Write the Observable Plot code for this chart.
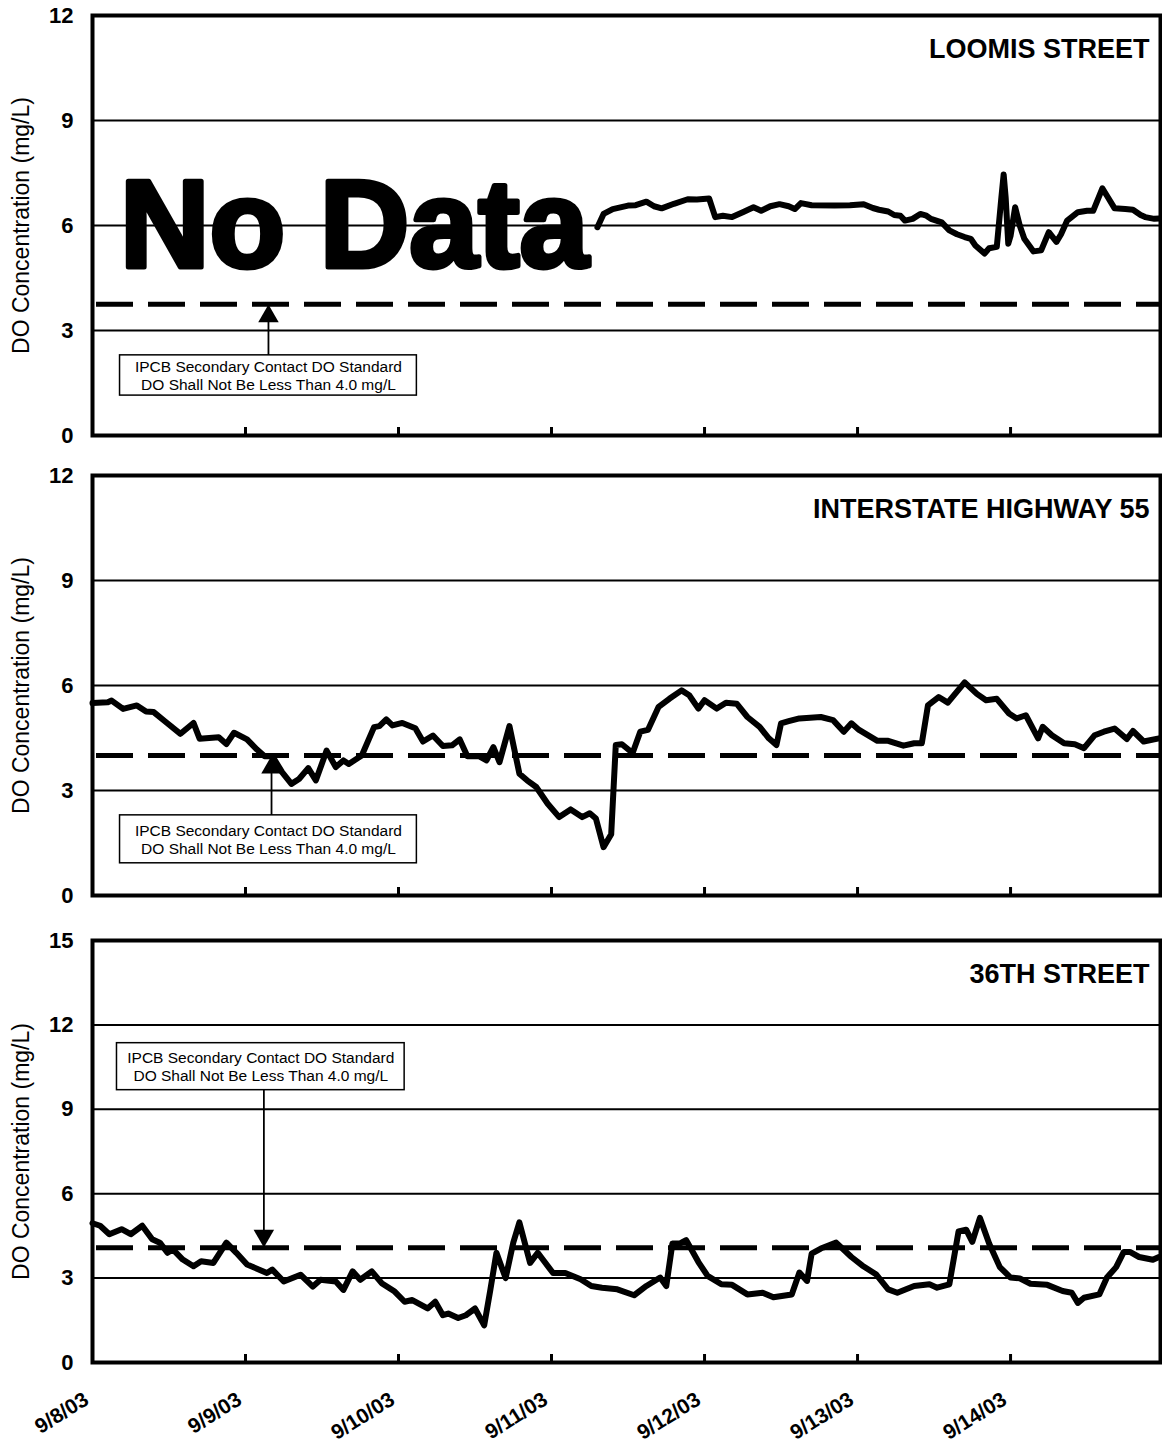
<!DOCTYPE html>
<html><head><meta charset="utf-8">
<script src="https://cdn.jsdelivr.net/npm/d3@7"></script>
<script src="https://cdn.jsdelivr.net/npm/@observablehq/plot@0.6"></script>
<style>
body{margin:0;background:#fff;}
#chart{width:1162px;}
#chart svg{display:block;}
</style></head><body><div id="chart"></div>
<script>
// ---------- data ----------
const dayTicks = [0, 1, 2, 3, 4, 5, 6];
const tickLabels = ["9/8/03", "9/9/03", "9/10/03", "9/11/03", "9/12/03", "9/13/03", "9/14/03"];
const stations = ["LOOMIS STREET", "INTERSTATE HIGHWAY 55", "36TH STREET"];
const yTicksA = [0, 3, 6, 9, 12];
const yTicksB = [0, 3, 6, 9, 12, 15];
const standardDO = [3.75, 4.0, 4.08];
const noteLines = ["IPCB Secondary Contact DO Standard", "DO Shall Not Be Less Than 4.0 mg/L"];
const yLabel = "DO Concentration (mg/L)";
const noDataLabel = "No Data";

const loomisDay = [3.30,3.34,3.40,3.45,3.50,3.55,3.62,3.67,3.72,3.80,3.89,3.95,4.03,4.07,4.12,4.18,4.25,4.32,4.37,4.43,4.49,4.55,4.59,4.63,4.70,4.85,4.95,5.04,5.10,5.14,5.20,5.24,5.28,5.31,5.36,5.41,5.45,5.48,5.55,5.60,5.65,5.70,5.74,5.77,5.83,5.86,5.91,5.94,5.955,5.968,5.985,6.00,6.03,6.06,6.09,6.15,6.20,6.25,6.30,6.33,6.37,6.44,6.50,6.54,6.60,6.63,6.68,6.75,6.80,6.85,6.88,6.94,6.97];
const loomisDO  = [5.95,6.33,6.47,6.52,6.57,6.58,6.68,6.55,6.49,6.62,6.75,6.74,6.77,6.24,6.28,6.24,6.38,6.52,6.42,6.55,6.61,6.55,6.47,6.64,6.58,6.57,6.58,6.61,6.50,6.45,6.40,6.30,6.28,6.14,6.19,6.33,6.28,6.19,6.09,5.86,5.75,5.67,5.62,5.43,5.20,5.35,5.39,6.80,7.46,6.80,5.48,5.70,6.52,6.00,5.62,5.26,5.29,5.81,5.53,5.75,6.14,6.38,6.42,6.42,7.06,6.85,6.49,6.47,6.45,6.30,6.24,6.19,6.20];

const i55Day = [0.00,0.10,0.125,0.20,0.29,0.35,0.40,0.475,0.575,0.66,0.70,0.825,0.875,0.925,1.01,1.075,1.125,1.175,1.24,1.30,1.35,1.41,1.46,1.53,1.59,1.64,1.675,1.76,1.84,1.875,1.92,1.96,2.025,2.11,2.16,2.225,2.29,2.35,2.40,2.45,2.525,2.575,2.62,2.66,2.725,2.79,2.84,2.90,2.975,3.05,3.125,3.20,3.25,3.29,3.34,3.39,3.42,3.46,3.53,3.58,3.63,3.70,3.77,3.85,3.90,3.96,4.00,4.08,4.14,4.21,4.28,4.36,4.42,4.47,4.50,4.55,4.62,4.76,4.84,4.91,4.96,5.01,5.13,5.20,5.30,5.37,5.42,5.46,5.53,5.59,5.70,5.78,5.84,5.91,5.99,6.04,6.10,6.18,6.21,6.27,6.35,6.42,6.48,6.55,6.61,6.68,6.76,6.80,6.87,6.97];
const i55DO  = [5.50,5.52,5.57,5.33,5.43,5.26,5.24,4.97,4.62,4.93,4.48,4.52,4.33,4.65,4.46,4.17,3.98,3.98,3.52,3.19,3.33,3.64,3.29,4.14,3.67,3.86,3.76,4.00,4.81,4.84,5.03,4.86,4.93,4.78,4.40,4.57,4.27,4.29,4.46,3.98,3.98,3.86,4.24,3.81,4.84,3.48,3.29,3.10,2.62,2.24,2.46,2.24,2.35,2.20,1.38,1.75,4.30,4.32,4.07,4.68,4.73,5.39,5.62,5.86,5.72,5.34,5.58,5.34,5.51,5.48,5.10,4.82,4.49,4.30,4.92,4.98,5.06,5.10,5.01,4.68,4.92,4.73,4.42,4.42,4.28,4.35,4.35,5.43,5.67,5.51,6.09,5.76,5.58,5.62,5.20,5.06,5.15,4.49,4.82,4.58,4.35,4.32,4.21,4.58,4.68,4.77,4.47,4.70,4.40,4.49];

const st36Day = [0.00,0.05,0.11,0.19,0.25,0.325,0.39,0.44,0.49,0.525,0.59,0.66,0.71,0.79,0.875,0.94,1.01,1.09,1.14,1.175,1.25,1.36,1.44,1.49,1.59,1.64,1.70,1.75,1.825,1.89,1.975,2.04,2.09,2.19,2.24,2.29,2.325,2.39,2.44,2.50,2.56,2.60,2.64,2.70,2.75,2.79,2.86,2.91,3.01,3.09,3.19,3.26,3.33,3.43,3.54,3.62,3.71,3.75,3.79,3.84,3.88,3.96,4.02,4.11,4.18,4.28,4.38,4.45,4.57,4.62,4.67,4.70,4.76,4.86,4.96,5.03,5.12,5.20,5.26,5.37,5.47,5.52,5.60,5.66,5.71,5.75,5.80,5.86,5.93,6.00,6.06,6.13,6.24,6.34,6.40,6.44,6.48,6.58,6.63,6.69,6.74,6.78,6.84,6.93,6.97];
const st36DO  = [4.95,4.86,4.56,4.74,4.56,4.86,4.38,4.26,3.90,4.02,3.66,3.42,3.60,3.54,4.26,3.90,3.48,3.30,3.18,3.30,2.88,3.12,2.70,2.94,2.88,2.58,3.24,2.94,3.24,2.82,2.52,2.16,2.22,1.92,2.16,1.68,1.74,1.58,1.68,1.92,1.32,2.58,3.90,3.00,4.26,4.98,3.54,3.90,3.18,3.18,2.96,2.72,2.66,2.60,2.39,2.72,3.02,2.72,4.23,4.23,4.35,3.57,3.08,2.78,2.76,2.42,2.48,2.32,2.42,3.20,2.90,3.87,4.05,4.26,3.75,3.45,3.14,2.60,2.48,2.72,2.78,2.66,2.78,4.66,4.72,4.29,5.14,4.23,3.39,3.02,2.99,2.80,2.76,2.54,2.48,2.12,2.30,2.42,3.02,3.39,3.93,3.93,3.75,3.65,3.75];

// ---------- layout / styling ----------
const FONT = "'Liberation Sans', Arial, Helvetica, sans-serif";
const xDomain = [0, 6.98];

const panels = [
  {title: stations[0], days: loomisDay, values: loomisDO, yTicks: yTicksA, std: standardDO[0],
   height: 455, marginTop: 15, marginBottom: 20, labels: false,
   box: {x1: 0.18, x2: 2.12, y1: 1.14, y2: 2.29}, arrow: {x: 1.15, dir: "up"},
   noData: {x: 1.71, y: 5.95}},
  {title: stations[1], days: i55Day, values: i55DO, yTicks: yTicksA, std: standardDO[1],
   height: 460, marginTop: 20, marginBottom: 20, labels: false,
   box: {x1: 0.18, x2: 2.12, y1: 0.92, y2: 2.29}, arrow: {x: 1.17, dir: "up"}},
  {title: stations[2], days: st36Day, values: st36DO, yTicks: yTicksB, std: standardDO[2],
   height: 535, marginTop: 25, marginBottom: 88, labels: true,
   box: {x1: 0.16, x2: 2.04, y1: 9.68, y2: 11.35}, arrow: {x: 1.12, dir: "down"}}
];

function makePanel(p) {
  const data = p.days.map((d, i) => ({day: d, value: p.values[i]}));
  const yMax = p.yTicks[p.yTicks.length - 1];
  const b = p.box;
  const boxMid = (b.y1 + b.y2) / 2;
  const arrowFrom = p.arrow.dir === "up" ? b.y2 : b.y1;
  const marks = [
    Plot.ruleY(p.yTicks.slice(1, -1), {stroke: "#000", strokeWidth: 2}),
    Plot.ruleY([p.std], {stroke: "#000", strokeWidth: 5, strokeDasharray: "37,15", strokeDashoffset: -4}),
    Plot.rect([b], {x1: "x1", x2: "x2", y1: "y1", y2: "y2", fill: "#fff", stroke: "#000", strokeWidth: 1.5}),
    Plot.text([noteLines.join("\n")], {x: (b.x1 + b.x2) / 2, y: boxMid, fontSize: 15.5, lineHeight: 1.15, fill: "#000", fontFamily: FONT}),
    Plot.ruleX([{x: p.arrow.x, y1: arrowFrom, y2: p.std}], {x: "x", y1: "y1", y2: "y2", stroke: "#000", strokeWidth: 1.8}),
    Plot.dot([{x: p.arrow.x, y: p.std}], {x: "x", y: "y", symbol: "triangle", r: 7.6, fill: "#000", stroke: "none",
      rotate: p.arrow.dir === "up" ? 0 : 180, dy: p.arrow.dir === "up" ? 12 : -12}),
    Plot.line(data, {x: "day", y: "value", stroke: "#000", strokeWidth: 6, strokeLinejoin: "round", strokeLinecap: "round"}),
    Plot.text([p.title], {frameAnchor: "top-right", textAnchor: "end", lineAnchor: "bottom", dx: -11, dy: 42,
      fontSize: 27, fontWeight: "bold", fontFamily: FONT, fill: "#000"}),
    Plot.frame({stroke: "#000", strokeWidth: 4}),
    Plot.axisY(p.yTicks, {tickSize: 0, tickPadding: 19, fontSize: 22, fontWeight: "bold", fontFamily: FONT, label: null, fill: "#000"}),
    Plot.text([yLabel], {frameAnchor: "left", textAnchor: "middle", rotate: -90, dx: -71, fontSize: 23, fontFamily: FONT, fill: "#000"}),
    Plot.axisX(dayTicks.slice(1), {tickSize: -8, strokeWidth: 3, tickFormat: () => "", label: null})
  ];
  if (p.noData) {
    marks.push(Plot.text([noDataLabel], {x: p.noData.x, y: p.noData.y, fontSize: 124, fontWeight: "bold",
      fontFamily: FONT, fill: "#000", stroke: "#000", strokeWidth: 5, strokeLinejoin: "round"}));
  }
  if (p.labels) {
    marks.push(Plot.axisX(dayTicks, {tickSize: 0, tickPadding: 35, tickRotate: -32, tickFormat: d => tickLabels[d],
      fontSize: 21, fontWeight: "bold", fontFamily: FONT, label: null, fill: "#000", dx: -6}));
  }
  return Plot.plot({
    width: 1162, height: p.height,
    marginLeft: 92, marginRight: 2, marginTop: p.marginTop, marginBottom: p.marginBottom,
    style: {fontFamily: FONT, background: "#fff", color: "#000", overflow: "visible"},
    x: {domain: xDomain},
    y: {domain: [0, yMax]},
    marks
  });
}

const host = document.getElementById("chart");
panels.forEach(p => host.appendChild(makePanel(p)));
</script>
</body></html>
